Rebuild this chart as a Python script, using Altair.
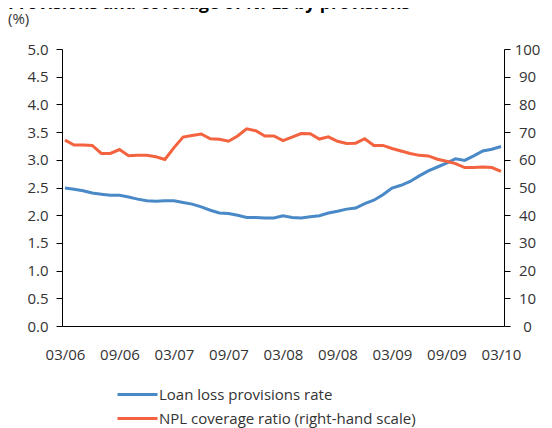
import altair as alt
import pandas as pd

chart_title = "Provisions and coverage of NPLs by provisions"
unit_label = "(%)"
series_names = ["Loan loss provisions rate", "NPL coverage ratio (right-hand scale)"]
colors = ["#4A89C8", "#F4633F"]

months = list(range(49))  # 03/06 .. 03/10 monthly
tick_positions = [0, 6, 12, 18, 24, 30, 36, 42, 48]
tick_labels = ["03/06", "09/06", "03/07", "09/07", "03/08", "09/08", "03/09", "09/09", "03/10"]

provisions_rate = [2.49, 2.47, 2.44, 2.40, 2.38, 2.36, 2.36, 2.33, 2.29, 2.26, 2.25, 2.26,
                   2.26, 2.23, 2.20, 2.15, 2.09, 2.04, 2.03, 2.00, 1.96, 1.96, 1.95, 1.95,
                   1.99, 1.96, 1.95, 1.97, 1.99, 2.04, 2.07, 2.11, 2.13, 2.21, 2.27, 2.37,
                   2.49, 2.54, 2.61, 2.71, 2.80, 2.87, 2.94, 3.02, 2.99, 3.07, 3.16, 3.19, 3.24]
npl_coverage = [67.1, 65.3, 65.3, 65.2, 62.3, 62.3, 63.7, 61.5, 61.6, 61.6, 61.1, 60.1,
                64.4, 68.2, 68.8, 69.3, 67.6, 67.4, 66.7, 68.6, 71.2, 70.5, 68.6, 68.6,
                66.9, 68.2, 69.5, 69.4, 67.5, 68.3, 66.7, 65.9, 66.0, 67.6, 65.2, 65.2,
                64.1, 63.2, 62.3, 61.6, 61.4, 60.2, 59.5, 58.6, 57.2, 57.2, 57.4, 57.2, 55.8]

left_ticks = [0.0, 0.5, 1.0, 1.5, 2.0, 2.5, 3.0, 3.5, 4.0, 4.5, 5.0]
right_ticks = [0, 10, 20, 30, 40, 50, 60, 70, 80, 90, 100]

df1 = pd.DataFrame({"m": months, "v": provisions_rate, "s": series_names[0]})
df2 = pd.DataFrame({"m": months, "v": npl_coverage, "s": series_names[1]})

label_expr = "[" + ",".join(f"'{t}'" for t in tick_labels) + "][round(datum.value/6)]"

FS = 15
TXT = "#333333"

xenc = alt.X(
    "m:Q",
    scale=alt.Scale(domain=[-0.33, 48.33], nice=False, zero=False),
    axis=alt.Axis(values=tick_positions, labelExpr=label_expr, ticks=False, tickSize=0,
                  grid=False, domainColor="#000000", labelPadding=21, labelFontSize=FS,
                  labelColor=TXT, title=None, labelFlush=False),
)

color = alt.Color(
    "s:N",
    scale=alt.Scale(domain=series_names, range=colors),
    legend=alt.Legend(title=None, orient="none", legendX=64, legendY=334,
                      symbolType="M-2,0H2", symbolSize=400, symbolStrokeWidth=3,
                      labelOffset=10, labelFontSize=FS, labelColor=TXT,
                      rowPadding=4, padding=0, labelLimit=400),
)

left = alt.Chart(df1).mark_line(strokeWidth=3).encode(
    x=xenc,
    y=alt.Y("v:Q", scale=alt.Scale(domain=[0, 5], nice=False),
            axis=alt.Axis(values=left_ticks, format=".1f", orient="left", grid=False,
                          tickSize=6, tickColor="#000000", domainColor="#000000",
                          labelPadding=8, labelFontSize=FS, labelColor=TXT, title=None)),
    color=color,
)

right = alt.Chart(df2).mark_line(strokeWidth=3).encode(
    x=xenc,
    y=alt.Y("v:Q", scale=alt.Scale(domain=[0, 100], nice=False),
            axis=alt.Axis(values=right_ticks, format="d", orient="right", grid=False,
                          tickSize=6, tickColor="#000000", domainColor="#000000",
                          labelPadding=17, labelAlign="center", labelFontSize=FS,
                          labelColor=TXT, title=None)),
    color=color,
)

title = alt.Chart(pd.DataFrame({"t": [chart_title]})).mark_text(
    align="left", baseline="alphabetic", fontSize=17.5, fontWeight="bold", color="#000000"
).encode(x=alt.value(-54), y=alt.value(-40), text="t:N")

unit = alt.Chart(pd.DataFrame({"t": [unit_label]})).mark_text(
    align="left", baseline="alphabetic", fontSize=FS, color=TXT
).encode(x=alt.value(-54), y=alt.value(-25), text="t:N")

chart = alt.layer(left, right, title, unit).resolve_scale(y="independent").properties(
    width=442, height=277,
    autosize=alt.AutoSizeParams(type="none"),
    padding={"left": 54, "top": 41, "right": 40, "bottom": 104},
).configure(font="Open Sans").configure_view(strokeWidth=0)

chart.save("out.html", embed_options={"renderer": "svg", "actions": False})
